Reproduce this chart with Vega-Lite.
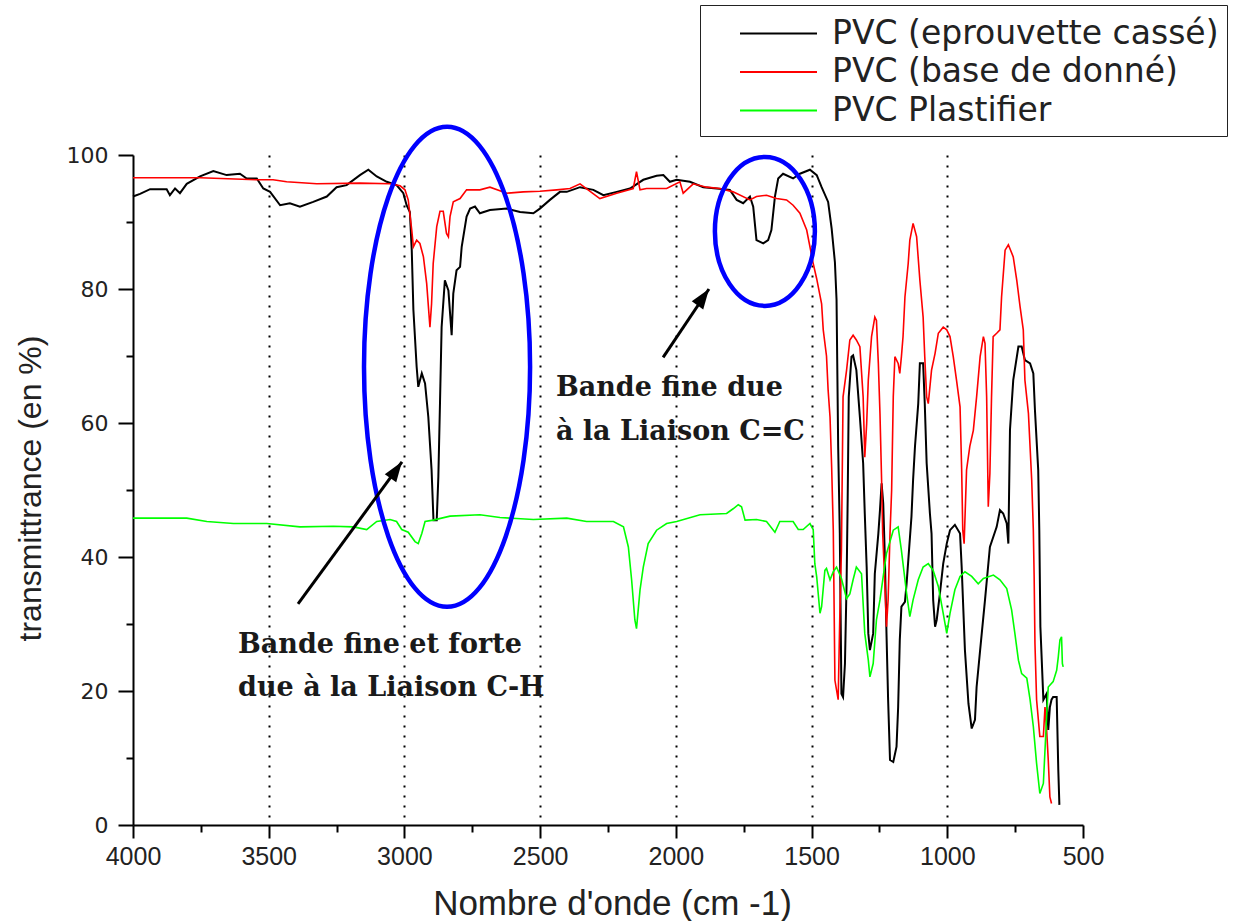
{
  "$schema": "https://vega.github.io/schema/vega-lite/v6.json",
  "width": 950,
  "height": 670,
  "autosize": {"type": "none"},
  "padding": {"left": 133, "top": 155, "right": 158, "bottom": 96},
  "background": "white",
  "config": {
    "view": {"stroke": null},
    "axis": {
      "domainColor": "#000000",
      "domainWidth": 2,
      "tickColor": "#000000",
      "tickWidth": 2,
      "grid": false,
      "labelFlush": false,
      "labelOverlap": false,
      "labelColor": "#222222",
      "titleColor": "#222222",
      "titleFontWeight": "normal"
    }
  },
  "datasets": {
    "casse": [{"w":4000,"v":93.8},{"w":3974,"v":94.2},{"w":3937,"v":94.9},{"w":3876,"v":94.9},{"w":3864,"v":94.0},{"w":3845,"v":95.0},{"w":3827,"v":94.3},{"w":3802,"v":95.7},{"w":3753,"v":96.8},{"w":3704,"v":97.6},{"w":3655,"v":97.0},{"w":3606,"v":97.2},{"w":3581,"v":96.5},{"w":3544,"v":96.5},{"w":3520,"v":95.0},{"w":3495,"v":94.5},{"w":3458,"v":92.5},{"w":3422,"v":92.8},{"w":3385,"v":92.3},{"w":3336,"v":93.0},{"w":3286,"v":93.8},{"w":3250,"v":95.2},{"w":3213,"v":95.5},{"w":3164,"v":97.0},{"w":3133,"v":97.8},{"w":3102,"v":96.8},{"w":3065,"v":96.0},{"w":3029,"v":95.5},{"w":3004,"v":94.3},{"w":2992,"v":92.5},{"w":2980,"v":91.5},{"w":2973,"v":85.8},{"w":2967,"v":76.9},{"w":2955,"v":68.4},{"w":2949,"v":65.4},{"w":2936,"v":67.4},{"w":2924,"v":65.9},{"w":2912,"v":60.9},{"w":2900,"v":53.0},{"w":2893,"v":45.5},{"w":2881,"v":45.5},{"w":2875,"v":52.0},{"w":2869,"v":62.9},{"w":2863,"v":74.3},{"w":2851,"v":81.3},{"w":2838,"v":79.8},{"w":2826,"v":73.1},{"w":2820,"v":79.3},{"w":2808,"v":82.8},{"w":2795,"v":83.3},{"w":2789,"v":86.3},{"w":2771,"v":90.8},{"w":2758,"v":92.0},{"w":2740,"v":92.3},{"w":2722,"v":91.3},{"w":2685,"v":91.8},{"w":2623,"v":92.0},{"w":2574,"v":91.5},{"w":2525,"v":91.3},{"w":2501,"v":92.0},{"w":2464,"v":93.3},{"w":2427,"v":94.5},{"w":2402,"v":94.5},{"w":2353,"v":95.2},{"w":2304,"v":94.8},{"w":2267,"v":94.0},{"w":2218,"v":94.5},{"w":2169,"v":95.0},{"w":2120,"v":96.3},{"w":2071,"v":96.9},{"w":2046,"v":97.0},{"w":2022,"v":96.0},{"w":1997,"v":96.3},{"w":1948,"v":96.0},{"w":1899,"v":95.2},{"w":1850,"v":95.0},{"w":1801,"v":94.8},{"w":1776,"v":93.3},{"w":1752,"v":92.8},{"w":1727,"v":93.8},{"w":1715,"v":92.3},{"w":1703,"v":87.3},{"w":1678,"v":86.8},{"w":1660,"v":87.3},{"w":1648,"v":88.8},{"w":1635,"v":93.8},{"w":1623,"v":96.5},{"w":1605,"v":97.2},{"w":1568,"v":96.5},{"w":1543,"v":97.2},{"w":1506,"v":97.8},{"w":1481,"v":97.0},{"w":1463,"v":95.2},{"w":1439,"v":93.0},{"w":1426,"v":89.0},{"w":1414,"v":84.0},{"w":1408,"v":78.4},{"w":1402,"v":56.5},{"w":1396,"v":43.5},{"w":1390,"v":19.6},{"w":1384,"v":19.1},{"w":1377,"v":24.1},{"w":1371,"v":36.1},{"w":1367,"v":48.5},{"w":1363,"v":63.9},{"w":1353,"v":69.9},{"w":1347,"v":70.1},{"w":1335,"v":67.9},{"w":1322,"v":60.9},{"w":1310,"v":54.0},{"w":1304,"v":46.5},{"w":1297,"v":38.5},{"w":1291,"v":28.6},{"w":1285,"v":26.1},{"w":1273,"v":28.6},{"w":1267,"v":37.5},{"w":1254,"v":43.5},{"w":1248,"v":47.0},{"w":1242,"v":51.0},{"w":1236,"v":48.0},{"w":1230,"v":40.0},{"w":1224,"v":28.6},{"w":1218,"v":18.7},{"w":1211,"v":9.7},{"w":1199,"v":9.4},{"w":1187,"v":11.7},{"w":1181,"v":17.6},{"w":1175,"v":27.6},{"w":1169,"v":32.6},{"w":1156,"v":33.3},{"w":1150,"v":36.0},{"w":1132,"v":46.0},{"w":1126,"v":51.5},{"w":1119,"v":56.5},{"w":1107,"v":62.9},{"w":1101,"v":68.9},{"w":1089,"v":68.9},{"w":1083,"v":62.9},{"w":1076,"v":54.0},{"w":1064,"v":46.5},{"w":1058,"v":43.5},{"w":1052,"v":33.6},{"w":1045,"v":29.6},{"w":1039,"v":30.6},{"w":1027,"v":34.6},{"w":1015,"v":39.0},{"w":1002,"v":42.0},{"w":990,"v":44.0},{"w":972,"v":44.8},{"w":953,"v":43.5},{"w":947,"v":38.5},{"w":935,"v":26.1},{"w":922,"v":18.1},{"w":910,"v":14.4},{"w":898,"v":15.7},{"w":892,"v":20.6},{"w":879,"v":26.1},{"w":861,"v":33.6},{"w":843,"v":41.5},{"w":818,"v":44.5},{"w":806,"v":47.0},{"w":794,"v":46.5},{"w":781,"v":45.0},{"w":775,"v":42.0},{"w":769,"v":59.0},{"w":757,"v":66.4},{"w":738,"v":71.4},{"w":726,"v":71.4},{"w":714,"v":69.4},{"w":695,"v":68.9},{"w":683,"v":67.4},{"w":677,"v":61.9},{"w":665,"v":53.0},{"w":661,"v":44.0},{"w":657,"v":29.6},{"w":646,"v":18.7},{"w":634,"v":19.6},{"w":628,"v":14.2},{"w":622,"v":17.6},{"w":616,"v":18.7},{"w":610,"v":19.1},{"w":597,"v":19.1},{"w":591,"v":8.2},{"w":587,"v":3.0}],
    "base": [{"w":4000,"v":96.6},{"w":3753,"v":96.6},{"w":3544,"v":96.3},{"w":3484,"v":96.3},{"w":3434,"v":96.0},{"w":3323,"v":95.7},{"w":3164,"v":95.8},{"w":3053,"v":95.7},{"w":3016,"v":95.4},{"w":2998,"v":94.8},{"w":2986,"v":93.3},{"w":2973,"v":88.8},{"w":2967,"v":86.3},{"w":2955,"v":87.3},{"w":2943,"v":86.8},{"w":2930,"v":84.8},{"w":2918,"v":80.8},{"w":2906,"v":74.3},{"w":2900,"v":77.8},{"w":2894,"v":83.8},{"w":2881,"v":89.3},{"w":2869,"v":91.6},{"w":2857,"v":91.6},{"w":2845,"v":88.3},{"w":2838,"v":87.8},{"w":2832,"v":90.8},{"w":2820,"v":93.0},{"w":2795,"v":93.5},{"w":2771,"v":94.8},{"w":2722,"v":94.8},{"w":2685,"v":95.2},{"w":2623,"v":94.3},{"w":2562,"v":94.5},{"w":2501,"v":94.6},{"w":2439,"v":94.8},{"w":2390,"v":95.0},{"w":2353,"v":95.7},{"w":2280,"v":93.5},{"w":2218,"v":94.3},{"w":2157,"v":95.0},{"w":2145,"v":97.5},{"w":2132,"v":94.8},{"w":2108,"v":95.0},{"w":2034,"v":95.0},{"w":1985,"v":96.0},{"w":1973,"v":94.3},{"w":1936,"v":95.7},{"w":1887,"v":95.2},{"w":1838,"v":95.0},{"w":1789,"v":94.5},{"w":1727,"v":93.3},{"w":1703,"v":93.8},{"w":1666,"v":94.0},{"w":1629,"v":93.5},{"w":1592,"v":93.3},{"w":1568,"v":92.5},{"w":1543,"v":91.3},{"w":1518,"v":88.8},{"w":1494,"v":83.8},{"w":1481,"v":81.5},{"w":1463,"v":77.8},{"w":1457,"v":73.9},{"w":1445,"v":70.0},{"w":1439,"v":64.9},{"w":1432,"v":60.9},{"w":1426,"v":53.4},{"w":1420,"v":44.0},{"w":1414,"v":21.6},{"w":1402,"v":18.7},{"w":1396,"v":31.1},{"w":1390,"v":41.0},{"w":1384,"v":63.9},{"w":1371,"v":67.9},{"w":1359,"v":72.4},{"w":1347,"v":73.1},{"w":1335,"v":72.4},{"w":1322,"v":71.4},{"w":1310,"v":63.9},{"w":1304,"v":54.9},{"w":1297,"v":59.9},{"w":1291,"v":66.4},{"w":1279,"v":72.9},{"w":1267,"v":75.8},{"w":1261,"v":75.3},{"w":1254,"v":68.9},{"w":1248,"v":61.4},{"w":1242,"v":51.5},{"w":1238,"v":43.5},{"w":1230,"v":36.0},{"w":1224,"v":29.6},{"w":1218,"v":33.6},{"w":1211,"v":43.5},{"w":1205,"v":50.0},{"w":1199,"v":63.9},{"w":1193,"v":69.9},{"w":1181,"v":68.9},{"w":1175,"v":67.4},{"w":1169,"v":69.9},{"w":1163,"v":72.9},{"w":1156,"v":78.8},{"w":1144,"v":83.8},{"w":1138,"v":87.3},{"w":1126,"v":89.8},{"w":1113,"v":87.8},{"w":1101,"v":81.3},{"w":1089,"v":75.8},{"w":1083,"v":69.9},{"w":1076,"v":63.9},{"w":1070,"v":62.9},{"w":1058,"v":67.9},{"w":1045,"v":70.4},{"w":1033,"v":73.4},{"w":1015,"v":74.3},{"w":1002,"v":73.9},{"w":990,"v":72.9},{"w":978,"v":69.9},{"w":966,"v":66.4},{"w":953,"v":62.4},{"w":947,"v":53.0},{"w":943,"v":44.0},{"w":938,"v":42.0},{"w":933,"v":48.0},{"w":929,"v":53.0},{"w":917,"v":56.5},{"w":904,"v":58.9},{"w":892,"v":63.9},{"w":879,"v":69.9},{"w":867,"v":72.9},{"w":861,"v":71.9},{"w":855,"v":63.9},{"w":849,"v":47.5},{"w":843,"v":52.5},{"w":837,"v":63.9},{"w":831,"v":72.9},{"w":818,"v":73.4},{"w":806,"v":73.9},{"w":800,"v":78.8},{"w":787,"v":85.8},{"w":775,"v":86.6},{"w":757,"v":84.8},{"w":744,"v":81.3},{"w":732,"v":77.4},{"w":720,"v":73.9},{"w":714,"v":66.4},{"w":701,"v":61.4},{"w":689,"v":51.5},{"w":683,"v":44.0},{"w":680,"v":37.1},{"w":677,"v":27.1},{"w":671,"v":18.7},{"w":659,"v":13.2},{"w":646,"v":13.2},{"w":640,"v":17.6},{"w":634,"v":14.2},{"w":628,"v":9.7},{"w":622,"v":4.2},{"w":616,"v":3.2}],
    "plast": [{"w":4000,"v":45.8},{"w":3876,"v":45.8},{"w":3802,"v":45.8},{"w":3728,"v":45.3},{"w":3630,"v":45.0},{"w":3507,"v":45.0},{"w":3385,"v":44.5},{"w":3262,"v":44.6},{"w":3188,"v":44.5},{"w":3139,"v":44.1},{"w":3102,"v":45.3},{"w":3053,"v":45.6},{"w":3029,"v":45.3},{"w":3010,"v":44.1},{"w":2986,"v":43.7},{"w":2961,"v":42.3},{"w":2949,"v":42.0},{"w":2936,"v":43.5},{"w":2924,"v":45.3},{"w":2894,"v":45.5},{"w":2832,"v":46.1},{"w":2722,"v":46.3},{"w":2648,"v":45.9},{"w":2525,"v":45.6},{"w":2402,"v":45.8},{"w":2329,"v":45.3},{"w":2230,"v":45.3},{"w":2193,"v":44.5},{"w":2175,"v":41.5},{"w":2163,"v":36.6},{"w":2151,"v":30.6},{"w":2145,"v":29.3},{"w":2132,"v":35.1},{"w":2120,"v":38.5},{"w":2102,"v":42.0},{"w":2071,"v":44.0},{"w":2034,"v":45.0},{"w":1997,"v":45.3},{"w":1911,"v":46.3},{"w":1813,"v":46.5},{"w":1789,"v":47.2},{"w":1770,"v":47.8},{"w":1758,"v":47.5},{"w":1745,"v":45.5},{"w":1703,"v":45.6},{"w":1666,"v":45.3},{"w":1635,"v":43.7},{"w":1617,"v":45.3},{"w":1568,"v":45.3},{"w":1549,"v":44.1},{"w":1531,"v":44.1},{"w":1506,"v":45.0},{"w":1494,"v":44.1},{"w":1488,"v":39.0},{"w":1481,"v":37.0},{"w":1469,"v":31.6},{"w":1463,"v":32.6},{"w":1451,"v":38.0},{"w":1445,"v":38.3},{"w":1432,"v":36.6},{"w":1420,"v":37.8},{"w":1408,"v":38.5},{"w":1390,"v":36.8},{"w":1371,"v":33.8},{"w":1359,"v":34.5},{"w":1347,"v":36.6},{"w":1335,"v":38.5},{"w":1316,"v":37.5},{"w":1304,"v":28.6},{"w":1291,"v":24.6},{"w":1285,"v":22.1},{"w":1273,"v":24.1},{"w":1261,"v":30.6},{"w":1248,"v":33.6},{"w":1236,"v":37.1},{"w":1224,"v":40.5},{"w":1199,"v":44.0},{"w":1181,"v":44.5},{"w":1169,"v":41.0},{"w":1150,"v":34.6},{"w":1138,"v":31.1},{"w":1126,"v":33.6},{"w":1107,"v":36.6},{"w":1089,"v":38.5},{"w":1070,"v":39.0},{"w":1052,"v":38.0},{"w":1033,"v":35.6},{"w":1015,"v":31.6},{"w":1002,"v":28.6},{"w":990,"v":31.6},{"w":972,"v":35.1},{"w":953,"v":37.1},{"w":935,"v":37.8},{"w":910,"v":37.1},{"w":886,"v":36.0},{"w":867,"v":36.8},{"w":830,"v":37.3},{"w":806,"v":36.6},{"w":781,"v":35.3},{"w":763,"v":32.1},{"w":751,"v":28.6},{"w":738,"v":24.6},{"w":726,"v":22.6},{"w":707,"v":21.9},{"w":695,"v":18.7},{"w":683,"v":14.7},{"w":671,"v":9.2},{"w":659,"v":4.7},{"w":646,"v":6.2},{"w":634,"v":16.2},{"w":628,"v":20.6},{"w":610,"v":21.4},{"w":597,"v":23.1},{"w":591,"v":25.1},{"w":585,"v":27.6},{"w":579,"v":28.1},{"w":576,"v":24.1},{"w":573,"v":23.6}],
    "zone_ch": [{"w": 2843, "v": 68.4}],
    "zone_cc": [{"w": 1672, "v": 88.6}],
    "fleches": [
      {"w": 3392, "v": 33.0, "w2": 3009, "v2": 54.2},
      {"w": 2047, "v": 69.8, "w2": 1878, "v2": 80.0}
    ],
    "notes": [
      {"w": 2442, "v": 65.2, "t": "Bande fine due"},
      {"w": 2442, "v": 58.7, "t": "à la Liaison C=C"},
      {"w": 3613, "v": 26.9, "t": "Bande fine et forte"},
      {"w": 3613, "v": 20.4, "t": "due à la Liaison C-H"}
    ]
  },
  "resolve": {"axis": {"x": "independent", "y": "independent"}},
  "layer": [
    {
      "data": {"name": "casse"},
      "mark": {"type": "line", "strokeWidth": 2},
      "encoding": {
        "x": {
          "field": "w", "type": "quantitative",
          "scale": {"domain": [500, 4000], "reverse": true, "nice": false, "zero": false},
          "axis": {
            "orient": "bottom", "values": [4000, 3500, 3000, 2500, 2000, 1500, 1000, 500], "format": "d",
            "tickSize": 13, "labelPadding": 6, "labelFont": "Liberation Sans", "labelFontSize": 25,
            "title": "Nombre d'onde (cm -1)", "titleFont": "Liberation Sans", "titleFontSize": 35,
            "titleX": 479, "titleY": 78, "titleBaseline": "middle", "titleAlign": "center"
          }
        },
        "y": {
          "field": "v", "type": "quantitative",
          "scale": {"domain": [0, 100], "nice": false, "zero": false},
          "axis": {
            "orient": "left", "values": [0, 20, 40, 60, 80, 100],
            "tickSize": 15, "labelPadding": 10, "labelFont": "DejaVu Sans", "labelFontSize": 22,
            "title": "transmittrance (en %)", "titleFont": "Liberation Sans", "titleFontSize": 32,
            "titleAngle": -90, "titleX": -103, "titleY": 333, "titleBaseline": "middle", "titleAlign": "center"
          }
        },
        "color": {
          "datum": "PVC (eprouvette cassé)",
          "scale": {"domain": ["PVC (eprouvette cassé)", "PVC (base de donné)", "PVC Plastifier"], "range": ["#000000", "#ff0000", "#00ff00"]},
          "legend": {
            "orient": "none", "legendX": 567, "legendY": -150, "title": null,
            "symbolType": "M -2 0 L 2 0", "symbolSize": 1482, "symbolStrokeWidth": 2,
            "labelFont": "DejaVu Sans", "labelFontSize": 33, "labelColor": "#222222", "labelLimit": 0,
            "labelOffset": 33, "symbolOffset": 50, "rowPadding": 0.5, "padding": 8,
            "strokeColor": "#222222", "fillColor": "#ffffff"
          }
        },
        "order": {"value": null}
      }
    },
    {
      "data": {"name": "base"},
      "mark": {"type": "line", "strokeWidth": 1.6},
      "encoding": {
        "x": {
          "field": "w", "type": "quantitative",
          "axis": {"orient": "bottom", "values": [3750, 3250, 2750, 2250, 1750, 1250, 750], "tickSize": 7, "labels": false, "domain": false, "title": null}
        },
        "y": {
          "field": "v", "type": "quantitative",
          "axis": {"orient": "left", "values": [10, 30, 50, 70, 90], "tickSize": 7, "labels": false, "domain": false, "title": null}
        },
        "color": {"datum": "PVC (base de donné)"},
        "order": {"value": null}
      }
    },
    {
      "data": {"name": "plast"},
      "mark": {"type": "line", "strokeWidth": 1.6},
      "encoding": {
        "x": {
          "field": "w", "type": "quantitative",
          "axis": {"orient": "bottom", "values": [3500, 3000, 2500, 2000, 1500, 1000], "grid": true, "gridColor": "#000000", "gridWidth": 2, "gridDash": [2, 8], "ticks": false, "labels": false, "domain": false, "title": null}
        },
        "y": {"field": "v", "type": "quantitative", "axis": null},
        "color": {"datum": "PVC Plastifier"},
        "order": {"value": null}
      }
    },
    {
      "data": {"name": "zone_ch"},
      "mark": {
        "type": "point", "filled": false, "opacity": 1, "stroke": "#0000ff", "strokeWidth": 4.5, "size": 230400,
        "shape": "M 0 -1 C 0.191 -1 0.346 -0.552 0.346 0 C 0.346 0.552 0.191 1 0 1 C -0.191 1 -0.346 0.552 -0.346 0 C -0.346 -0.552 -0.191 -1 0 -1 Z"
      },
      "encoding": {
        "x": {"field": "w", "type": "quantitative", "axis": null},
        "y": {"field": "v", "type": "quantitative", "axis": null}
      }
    },
    {
      "data": {"name": "zone_cc"},
      "mark": {
        "type": "point", "filled": false, "opacity": 1, "stroke": "#0000ff", "strokeWidth": 4.5, "size": 22201,
        "shape": "M 0 -1 C 0.371 -1 0.671 -0.552 0.671 0 C 0.671 0.552 0.371 1 0 1 C -0.371 1 -0.671 0.552 -0.671 0 C -0.671 -0.552 -0.371 -1 0 -1 Z"
      },
      "encoding": {
        "x": {"field": "w", "type": "quantitative", "axis": null},
        "y": {"field": "v", "type": "quantitative", "axis": null}
      }
    },
    {
      "data": {"name": "fleches"},
      "mark": {"type": "rule", "color": "#000000", "strokeWidth": 3},
      "encoding": {
        "x": {"field": "w", "type": "quantitative", "axis": null},
        "y": {"field": "v", "type": "quantitative", "axis": null},
        "x2": {"field": "w2"},
        "y2": {"field": "v2"}
      }
    },
    {
      "data": {"name": "fleches"},
      "mark": {
        "type": "point", "filled": true, "opacity": 1, "color": "#000000", "size": 1600, "angle": 35,
        "shape": "M 0 0 L 0.35 1 L -0.35 1 Z"
      },
      "encoding": {
        "x": {"field": "w2", "type": "quantitative", "axis": null},
        "y": {"field": "v2", "type": "quantitative", "axis": null}
      }
    },
    {
      "data": {"name": "notes"},
      "mark": {
        "type": "text", "align": "left", "baseline": "middle",
        "font": "DejaVu Serif", "fontWeight": "bold", "fontSize": 27, "color": "#1a1a1a"
      },
      "encoding": {
        "x": {"field": "w", "type": "quantitative", "axis": null},
        "y": {"field": "v", "type": "quantitative", "axis": null},
        "text": {"field": "t"}
      }
    }
  ]
}
